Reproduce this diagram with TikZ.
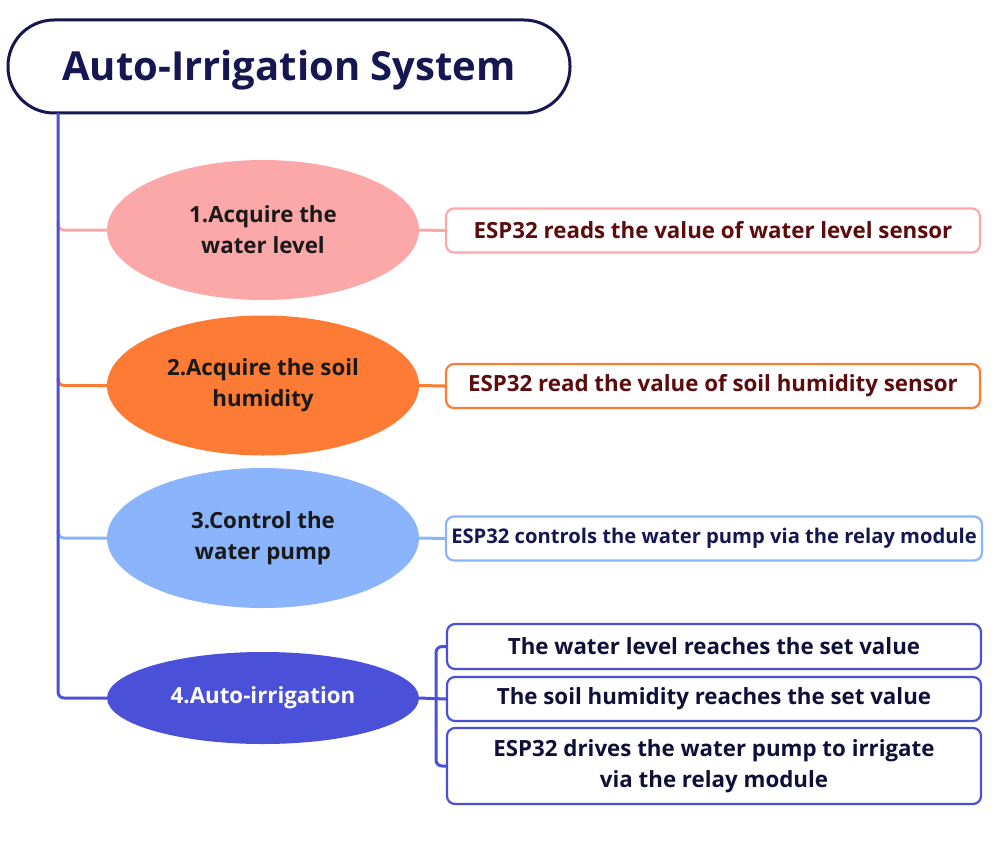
\documentclass[tikz,border=0pt]{standalone}
\usepackage{fontspec}
\setmainfont{Open Sans}
\usepackage{xcolor}
\usepackage{tikz}
\usetikzlibrary{positioning,calc,shapes.geometric}
\definecolor{navy}{RGB}{22,22,82}
\definecolor{maroon}{RGB}{92,12,12}
\definecolor{pinkc}{RGB}{252,168,168}
\definecolor{orangec}{RGB}{253,123,52}
\definecolor{skyc}{RGB}{138,180,252}
\definecolor{bluec}{RGB}{74,80,216}

\begin{document}
\begin{tikzpicture}[x=1pt,y=-1pt,
    title/.style={draw=navy,line width=3pt,rounded corners=46pt,minimum width=562pt,minimum height=93pt,
      text height=28.5pt,text depth=0pt,text=navy,font=\fontsize{40}{48}\bfseries\selectfont},
    stage/.style={ellipse,minimum width=312pt,minimum height=140pt,inner sep=0pt,align=center,
      font=\fontsize{22.3}{31}\bfseries\selectfont},
    info/.style={draw,rounded corners=8pt,line width=2.2pt,fill=white,minimum width=534pt,minimum height=44pt,
      align=center,inner sep=2pt,font=\fontsize{22.3}{31}\bfseries\selectfont},
    link/.style={line width=3pt,rounded corners=6pt}]
  \useasboundingbox (0,0) rectangle (1000,845);
  \node[title] (sys) at (289,66.5) {Auto-Irrigation System};
  \coordinate (trunk) at (58,113);

  \node[stage,fill=pinkc,text=black!90] (acq1) at (263,230) {1.Acquire the\\water level};
  \node[stage,fill=orangec,text=black!90] (acq2) at (263,385.5) {2.Acquire the soil\\humidity};
  \node[stage,fill=skyc,text=black!90] (pump) at (263,538) {3.Control the\\water pump};
  \node[stage,fill=bluec,text=white,minimum height=92pt] (auto) at (263,698) {4.Auto-irrigation};

  \node[info,draw=pinkc,text=maroon] (read1) at (713,230.5) {ESP32 reads the value of water level sensor};
  \node[info,draw=orangec,text=maroon] (read2) at (713,386) {ESP32 read the value of soil humidity sensor};
  \node[info,draw=skyc,text=navy,minimum width=536pt,font=\fontsize{20.2}{24}\bfseries\selectfont] (relay) at (714,538.5) {ESP32 controls the water pump via the relay module};
  \node[info,draw=bluec,text=navy!70!black,minimum height=45pt] (lvl) at (714,646.5) {The water level reaches the set value};
  \node[info,draw=bluec,text=navy!70!black] (hum) at (714,699) {The soil humidity reaches the set value};
  \node[info,draw=bluec,text=navy!70!black,minimum height=76pt] (drive) at (714,766) {ESP32 drives the water pump to irrigate\\via the relay module};
  \coordinate (fork) at (436,698);

  \draw[link,pinkc] ($(trunk |- acq1.west)+(0,-8)$) |- (acq1.west);
  \draw[link,orangec] ($(trunk |- acq2.west)+(0,-8)$) |- (acq2.west);
  \draw[link,skyc] ($(trunk |- pump.west)+(0,-8)$) |- (pump.west);
  \draw[link,bluec] (trunk) |- (auto.west);

  \draw[link,pinkc] (acq1.east) -- (read1.west);
  \draw[link,orangec] (acq2.east) -- (read2.west);
  \draw[link,skyc] (pump.east) -- (relay.west);
  \draw[link,bluec] (auto.east) -- (hum.west);
  \draw[link,bluec] (lvl.west) -- (lvl.west -| fork) -- (drive.west -| fork) -- (drive.west);
\end{tikzpicture}
\end{document}
